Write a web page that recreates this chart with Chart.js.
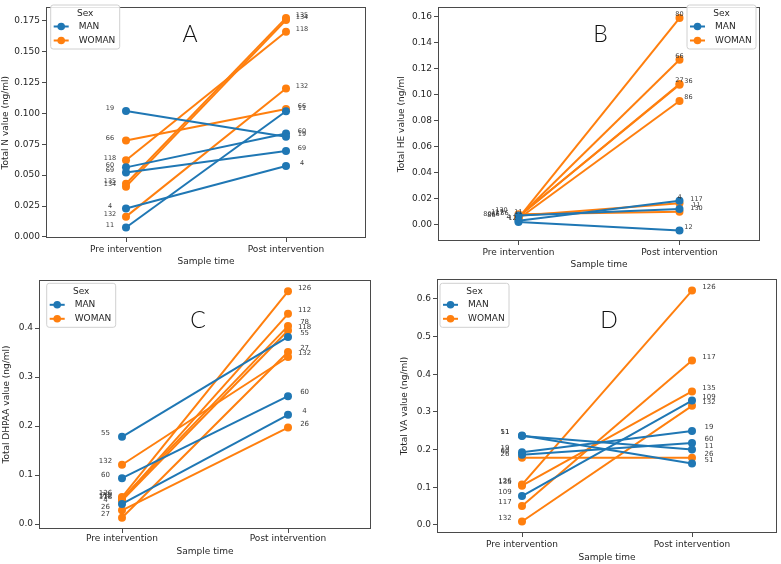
<!DOCTYPE html>
<html><head><meta charset="utf-8">
<script src="https://cdn.jsdelivr.net/npm/chart.js@4"></script>
<style>
html,body{margin:0;padding:0;background:#fff;}
#wrap{position:relative;width:781px;height:564px;overflow:hidden;background:#fff;}
canvas{position:absolute;}
</style></head><body>
<div id="wrap">
<canvas id="cA"></canvas><canvas id="cB"></canvas><canvas id="cC"></canvas><canvas id="cD"></canvas>
</div>
<script>
// ---------- data ----------
const timePoints = ['Pre intervention', 'Post intervention'];
const sexes = ['MAN', 'WOMAN'];

// Panel A : Total N value (ng/ml)
const A_ids  = ['19', '60', '69', '4', '11', '66', '118', '135', '134', '132'];
const A_sex  = ['MAN', 'MAN', 'MAN', 'MAN', 'MAN', 'WOMAN', 'WOMAN', 'WOMAN', 'WOMAN', 'WOMAN'];
const A_pre  = [0.1020, 0.0563, 0.0522, 0.0230, 0.0076, 0.0780, 0.0620, 0.0430, 0.0407, 0.0164];
const A_post = [0.0811, 0.0837, 0.0696, 0.0574, 0.1017, 0.1035, 0.1661, 0.1773, 0.1755, 0.1202];
const A_ticks = [0, 0.025, 0.05, 0.075, 0.1, 0.125, 0.15, 0.175];

// Panel B : Total HE value (ng/ml)
const B_ids  = ['4', '11', '12', '80', '66', '27', '36', '86', '117', '130'];
const B_sex  = ['MAN', 'MAN', 'MAN', 'WOMAN', 'WOMAN', 'WOMAN', 'WOMAN', 'WOMAN', 'WOMAN', 'WOMAN'];
const B_pre  = [0.0030, 0.0070, 0.0020, 0.0050, 0.0055, 0.0060, 0.0062, 0.0045, 0.0068, 0.0080];
const B_post = [0.0184, 0.0120, -0.0044, 0.1587, 0.1266, 0.1080, 0.1075, 0.0950, 0.0165, 0.0100];
const B_ticks = [0, 0.02, 0.04, 0.06, 0.08, 0.10, 0.12, 0.14, 0.16];

// Panel C : Total DHPAA value (ng/ml)
const C_ids  = ['55', '60', '4', '132', '126', '112', '78', '118', '27', '26'];
const C_sex  = ['MAN', 'MAN', 'MAN', 'WOMAN', 'WOMAN', 'WOMAN', 'WOMAN', 'WOMAN', 'WOMAN', 'WOMAN'];
const C_pre  = [0.178, 0.0936, 0.041, 0.121, 0.055, 0.050, 0.052, 0.048, 0.013, 0.028];
const C_post = [0.382, 0.261, 0.223, 0.341, 0.475, 0.429, 0.404, 0.395, 0.351, 0.197];
const C_ticks = [0, 0.1, 0.2, 0.3, 0.4];

// Panel D : Total VA value (ng/ml)
const D_ids  = ['51', '11', '19', '60', '109', '26', '126', '135', '117', '132'];
const D_sex  = ['MAN', 'MAN', 'MAN', 'MAN', 'MAN', 'WOMAN', 'WOMAN', 'WOMAN', 'WOMAN', 'WOMAN'];
const D_pre  = [0.237, 0.236, 0.193, 0.186, 0.0765, 0.178, 0.107, 0.104, 0.050, 0.009];
const D_post = [0.163, 0.200, 0.249, 0.217, 0.330, 0.178, 0.622, 0.354, 0.436, 0.316];
const D_ticks = [0, 0.1, 0.2, 0.3, 0.4, 0.5, 0.6];

// ---------- style ----------
const sexColors = { MAN: '#1f77b4', WOMAN: '#ff7f0e' };
const FONT = 'DejaVu Sans';
const TXT = '#262626';
const SPINE = '#4a4a4a';

const idLabels = {
  id: 'idLabels',
  afterDatasetsDraw(chart, args, o) {
    const ctx = chart.ctx;
    const xs = chart.scales.x;
    const unit = xs.getPixelForValue(1) - xs.getPixelForValue(0);
    ctx.save();
    ctx.font = o.size + 'px "' + FONT + '"';
    ctx.fillStyle = '#3a3a3a';
    ctx.textAlign = 'center';
    ctx.textBaseline = 'middle';
    chart.data.datasets.forEach((ds, i) => {
      const meta = chart.getDatasetMeta(i);
      meta.data.forEach((pt, j) => {
        const nud = j === 0 ? o.nudgePre : o.nudgePost;
        let dx = (j === 0 ? -0.1 : 0.1) * unit;
        if (nud && nud[ds.label] !== undefined) dx = nud[ds.label];
        ctx.fillText(ds.label, pt.x + dx, pt.y + o.dy);
      });
    });
    ctx.restore();
  }
};

const decor = {
  id: 'decor',
  afterDraw(chart, args, o) {
    const { ctx, chartArea: a } = chart;
    ctx.save();
    // axes frame
    ctx.strokeStyle = SPINE;
    ctx.lineWidth = 1;
    ctx.strokeRect(Math.round(a.left) + 0.5, Math.round(a.top) + 0.5,
                   Math.round(a.right - a.left) - 1, Math.round(a.bottom - a.top) - 1);
    // panel letter
    ctx.fillStyle = '#111';
    ctx.font = '300 23px Lato';
    ctx.textAlign = 'center';
    ctx.textBaseline = 'middle';
    ctx.fillText(o.letter, o.letterX, o.letterY);
    // legend
    const L = o.legend;
    const w = 69, h = 44, r = 2.5;
    ctx.beginPath();
    ctx.moveTo(L.x + r, L.y);
    ctx.lineTo(L.x + w - r, L.y); ctx.quadraticCurveTo(L.x + w, L.y, L.x + w, L.y + r);
    ctx.lineTo(L.x + w, L.y + h - r); ctx.quadraticCurveTo(L.x + w, L.y + h, L.x + w - r, L.y + h);
    ctx.lineTo(L.x + r, L.y + h); ctx.quadraticCurveTo(L.x, L.y + h, L.x, L.y + h - r);
    ctx.lineTo(L.x, L.y + r); ctx.quadraticCurveTo(L.x, L.y, L.x + r, L.y);
    ctx.closePath();
    ctx.fillStyle = 'rgba(255,255,255,0.85)';
    ctx.fill();
    ctx.strokeStyle = '#d0d0d0';
    ctx.stroke();
    ctx.font = '9px "' + FONT + '"';
    ctx.fillStyle = TXT;
    ctx.textAlign = 'center';
    ctx.fillText('Sex', L.x + w / 2, L.y + 8.3);
    sexes.forEach((s, k) => {
      const yy = L.y + 21.5 + k * 14;
      ctx.strokeStyle = sexColors[s];
      ctx.lineWidth = 2;
      ctx.beginPath(); ctx.moveTo(L.x + 3, yy); ctx.lineTo(L.x + 18, yy); ctx.stroke();
      ctx.fillStyle = sexColors[s];
      ctx.beginPath(); ctx.arc(L.x + 10.5, yy, 3.8, 0, Math.PI * 2); ctx.fill();
      ctx.fillStyle = TXT;
      ctx.textAlign = 'left';
      ctx.fillText(s, L.x + 28, yy);
    });
    ctx.restore();
  }
};

function makePanel(p) {
  const cv = document.getElementById(p.canvas);
  cv.width = p.w; cv.height = p.h;
  cv.style.left = p.x + 'px'; cv.style.top = p.y + 'px';
  cv.style.width = p.w + 'px'; cv.style.height = p.h + 'px';
  const all = p.pre.concat(p.post);
  const lo = Math.min(...all), hi = Math.max(...all);
  const m = 0.05 * (hi - lo);
  const datasets = p.ids.map((id, i) => ({
    label: id,
    data: [p.pre[i], p.post[i]],
    borderColor: sexColors[p.sex[i]],
    backgroundColor: sexColors[p.sex[i]],
    pointBackgroundColor: sexColors[p.sex[i]],
    pointBorderWidth: 0,
    pointRadius: 4,
    pointHoverRadius: 4,
    borderWidth: 2,
    tension: 0
  }));
  const f = { family: FONT, size: 9 };
  new Chart(cv, {
    type: 'line',
    data: { labels: timePoints, datasets },
    options: {
      responsive: false, animation: false, devicePixelRatio: 1,
      events: [],
      layout: { padding: { left: 0, top: p.area.t - p.y, right: p.x + p.w - p.area.r, bottom: 0 } },
      plugins: {
        legend: { display: false }, tooltip: { enabled: false },
        idLabels: { size: p.labelSize, dy: p.labelDy, nudgePre: p.nudgePre, nudgePost: p.nudgePost },
        decor: { letter: p.letter, letterX: p.letterPos[0] - p.x, letterY: p.letterPos[1] - p.y,
                 legend: { x: p.legendPos[0] - p.x, y: p.legendPos[1] - p.y } }
      },
      scales: {
        x: {
          type: 'category', offset: true,
          grid: { offset: false, drawOnChartArea: false, drawTicks: true, tickLength: 4, tickColor: SPINE },
          border: { display: false },
          ticks: { font: f, color: TXT, padding: p.xTickPad, maxRotation: 0, autoSkip: false },
          title: { display: true, text: 'Sample time', font: f, color: TXT, padding: { top: 0, bottom: p.xTitlePad } },
          afterFit(s) { s.height = p.y + p.h - p.area.b; }
        },
        y: {
          type: 'linear', min: lo - m, max: hi + m,
          afterBuildTicks(s) { s.ticks = p.ticks.map(v => ({ value: v })); },
          grid: { drawOnChartArea: false, drawTicks: true, tickLength: 4, tickColor: SPINE },
          border: { display: false },
          ticks: { font: f, color: TXT, padding: 2, autoSkip: false, callback: v => Number(v).toFixed(p.dec) },
          title: { display: true, text: p.yTitle, font: f, color: TXT, padding: { top: p.yTitlePad, bottom: 0 } },
          afterFit(s) { s.width = p.area.l - p.x; }
        }
      }
    },
    plugins: [idLabels, decor]
  });
}

makePanel({ canvas: 'cA', x: 0, y: 0, w: 390, h: 270,
  area: { l: 46, t: 1, r: 366, b: 238 },
  ids: A_ids, sex: A_sex, pre: A_pre, post: A_post, ticks: A_ticks, dec: 3,
  yTitle: 'Total N value (ng/ml)', yTitlePad: 0, xTickPad: 2, xTitlePad: 2.6,
  labelSize: 6.5, labelDy: -2.5,
  letter: 'A', letterPos: [190, 34.5], legendPos: [50.7, 5] });

makePanel({ canvas: 'cB', x: 390, y: 0, w: 391, h: 270,
  area: { l: 438, t: 2, r: 760, b: 241 },
  ids: B_ids, sex: B_sex, pre: B_pre, post: B_post, ticks: B_ticks, dec: 2,
  yTitle: 'Total HE value (ng/ml', yTitlePad: 6.6, xTickPad: 2, xTitlePad: 0,
  labelSize: 6.5, labelDy: -3.5,
  nudgePre: { '80': -31, '86': -27, '66': -23, '27': -19, '36': -14, '4': -10, '12': -6, '117': -21, '130': -17, '11': 0 },
  nudgePost: { '80': 0, '66': 0, '27': 0, '36': 9, '86': 9, '4': 0, '117': 17, '11': 17, '130': 17, '12': 9 },
  letter: 'B', letterPos: [600.5, 34.5], legendPos: [687, 5] });

makePanel({ canvas: 'cC', x: 0, y: 270, w: 390, h: 294,
  area: { l: 39, t: 280, r: 371, b: 529 },
  ids: C_ids, sex: C_sex, pre: C_pre, post: C_post, ticks: C_ticks, dec: 1,
  yTitle: 'Total DHPAA value (ng/ml)', yTitlePad: 1.6, xTickPad: 0.5, xTitlePad: 6.9,
  labelSize: 7, labelDy: -3.5,
  letter: 'C', letterPos: [198, 321], legendPos: [46.7, 283.3] });

makePanel({ canvas: 'cD', x: 390, y: 270, w: 391, h: 294,
  area: { l: 437, t: 279, r: 780, b: 533 },
  ids: D_ids, sex: D_sex, pre: D_pre, post: D_post, ticks: D_ticks, dec: 1,
  yTitle: 'Total VA value (ng/ml)', yTitlePad: 9.6, xTickPad: 2.6, xTitlePad: 1.3,
  labelSize: 7, labelDy: -3.5,
  letter: 'D', letterPos: [609, 321], legendPos: [440, 283.3] });
</script>
</body></html>
